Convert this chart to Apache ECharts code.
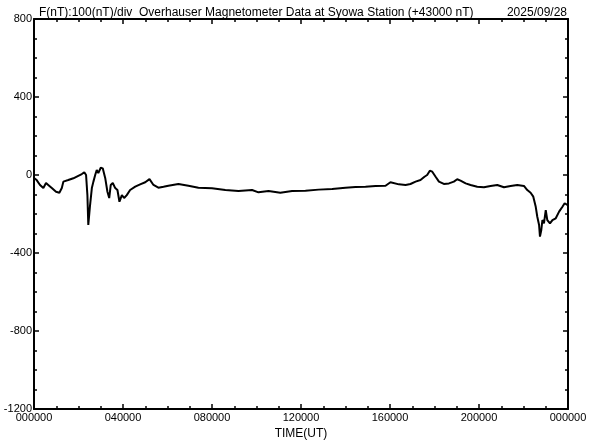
<!DOCTYPE html>
<html>
<head>
<meta charset="utf-8">
<script src="https://cdn.jsdelivr.net/npm/echarts@6/dist/echarts.min.js"></script>
<style>html,body{margin:0;padding:0;background:#fff}#c{width:592px;height:440px}</style>
</head>
<body>
<div id="c"></div>
<script>
// Time (hours UT) and F deviation (nT, relative to 43000 nT)
const timeHours = [0.00,0.12,0.27,0.42,0.54,0.64,0.80,0.99,1.14,1.25,1.32,1.54,1.77,1.99,2.15,2.26,2.34,2.40,2.44,2.52,2.60,2.67,2.75,2.82,2.89,3.00,3.09,3.20,3.30,3.38,3.45,3.54,3.65,3.75,3.84,3.95,4.05,4.17,4.32,4.55,4.77,5.00,5.19,5.37,5.59,5.82,6.04,6.49,6.94,7.39,8.00,8.60,9.19,9.80,10.09,10.54,11.07,11.60,12.20,12.79,13.40,14.00,14.45,14.90,15.35,15.80,16.02,16.40,16.70,16.92,17.15,17.37,17.55,17.67,17.79,17.90,18.05,18.20,18.42,18.65,18.87,19.02,19.17,19.40,19.62,19.92,20.22,20.52,20.82,21.12,21.42,21.72,22.02,22.17,22.32,22.44,22.55,22.62,22.70,22.74,22.80,22.85,22.92,23.00,23.07,23.19,23.30,23.45,23.60,23.75,23.85,23.97,24.00];
const fValues = [-15,-26,-51,-67,-41,-51,-67,-86,-91,-67,-34,-26,-17,-4,5,14,0,-103,-256,-154,-67,-34,0,26,10,37,34,-15,-86,-118,-51,-41,-67,-77,-137,-103,-118,-103,-77,-60,-48,-37,-21,-51,-65,-60,-55,-46,-55,-65,-68,-77,-82,-77,-89,-82,-91,-82,-81,-75,-72,-65,-62,-60,-56,-55,-37,-48,-51,-46,-34,-26,-9,0,22,17,-9,-34,-46,-43,-34,-22,-29,-43,-51,-60,-63,-56,-51,-63,-56,-51,-56,-77,-91,-111,-163,-214,-256,-316,-282,-231,-248,-180,-231,-248,-231,-222,-188,-163,-145,-154,-145];
const yTickLabels = ["-1200","-800","-400","0","400","800"];
const titleText = "F(nT):100(nT)/div  Overhauser Magnetometer Data at Syowa Station (+43000 nT)";
const dateText = "2025/09/28";
const xAxisName = "TIME(UT)";

const data = timeHours.map((t, i) => [t, fValues[i]]);
const FONT = "Liberation Sans, Arial, sans-serif";
const axisLine = { show: true, onZero: false, lineStyle: { color: '#000', width: 2 } };
const tick = { show: true, inside: true, length: 5, lineStyle: { color: '#000', width: 1.5 } };
const minor = { show: true, splitNumber: 4, length: 3, lineStyle: { color: '#000', width: 1.5 } };

const chart = echarts.init(document.getElementById('c'), null, { renderer: 'canvas' });
chart.setOption({
  animation: false,
  backgroundColor: '#fff',
  grid: { left: 34, right: 24, top: 19, bottom: 31, containLabel: false, outerBoundsMode: 'none' },
  title: [
    { text: titleText, left: 34, top: 2, textStyle: { fontFamily: FONT, fontSize: 12, fontWeight: 'normal', color: '#000' } },
    { text: dateText, right: 20, top: 2, textStyle: { fontFamily: FONT, fontSize: 12, fontWeight: 'normal', color: '#000' } }
  ],
  xAxis: [
    { type: 'value', min: 0, max: 24, interval: 4, position: 'bottom',
      axisLine, axisTick: tick, minorTick: minor, splitLine: { show: false },
      name: xAxisName, nameLocation: 'middle', nameGap: 16,
      nameTextStyle: { fontFamily: FONT, fontSize: 12, color: '#000' },
      axisLabel: { margin: 3, fontFamily: FONT, fontSize: 11, color: '#000',
        formatter: v => String(Math.round(v) % 24).padStart(2, '0') + '0000' } },
    { type: 'value', min: 0, max: 24, interval: 4, position: 'top',
      axisLine, axisTick: tick, minorTick: minor, splitLine: { show: false }, axisLabel: { show: false } }
  ],
  yAxis: [
    { type: 'value', min: -1200, max: 800, interval: 400, position: 'left',
      axisLine, axisTick: tick, minorTick: minor, splitLine: { show: false },
      axisLabel: { margin: 2, fontFamily: FONT, fontSize: 11, color: '#000',
        formatter: v => yTickLabels[Math.round((v + 1200) / 400)] } },
    { type: 'value', min: -1200, max: 800, interval: 400, position: 'right',
      axisLine, axisTick: tick, minorTick: minor, splitLine: { show: false }, axisLabel: { show: false } }
  ],
  series: [{
    type: 'line', data: data, xAxisIndex: 0, yAxisIndex: 0,
    showSymbol: false, symbol: 'none', smooth: false,
    lineStyle: { color: '#000', width: 2 }
  }]
});
</script>
</body>
</html>
